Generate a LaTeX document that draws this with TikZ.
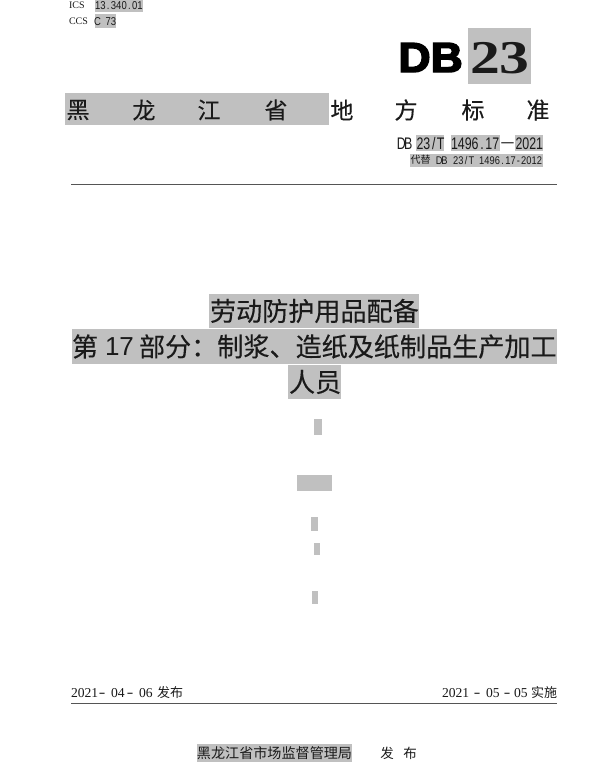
\documentclass[tikz,border=0pt]{standalone}
\usepackage{fontspec}
\setmainfont{Liberation Serif}
\newfontfamily\cjk[FakeBold=0.25]{Noto Sans CJK SC}
\newfontfamily\cjklight{Noto Sans CJK SC}
\newfontfamily\arialf{Liberation Sans}
\newfontfamily\heavyf[FakeBold=3.5]{Liberation Sans Bold}
\newcommand{\fsz}[1]{\fontsize{#1}{#1}\selectfont}
\makeatletter
\newcommand{\hw}[2]{\def\hwdim{#1}\@tfor\hwc:=#2\do{\makebox[\hwdim][c]{\hwc}}}
\makeatother
\definecolor{hlgray}{HTML}{C0C0C0}
\definecolor{ink}{HTML}{1A1A1A}
\definecolor{rulegray}{HTML}{555555}
\tikzset{
  hl/.style={fill=hlgray,draw=none},
  txt/.style={inner sep=0pt,outer sep=0pt,text=ink},
  rulel/.style={draw=rulegray,line width=1.3pt},
  band/.style={txt,font=\cjk\fsz{23}},
  ttl/.style={txt,font=\cjk\fsz{26.1},anchor=west},
  code/.style={txt,font=\arialf\fsz{9.5},anchor=base west,yscale=1.2},
  num/.style={txt,font=\arialf\fsz{12.4},anchor=base west,yscale=1.35},
  rep/.style={txt,font=\arialf\fsz{9.3},anchor=base west,yscale=1.2},
  date/.style={txt,font=\fsz{13.6},anchor=base west},
  dashm/.style={txt,font=\arialf\fsz{14},anchor=base,xscale=1.5},
  cjks/.style={txt,font=\cjklight\fsz{13},anchor=west}
}
\begin{document}
\begin{tikzpicture}[x=1pt,y=-1pt]
\useasboundingbox (0,0) rectangle (600,768);
% grey highlight boxes
\fill[hl] (94.5,0) rectangle (142.5,12.5);
\fill[hl] (94.5,14.5) rectangle (116,28);
\fill[hl] (65,93) rectangle (329,125);
\fill[hl] (468,28) rectangle (531,84);
\fill[hl] (416,135) rectangle (444,151);
\fill[hl] (451,135) rectangle (500,151);
\fill[hl] (515,135) rectangle (543,151);
\fill[hl] (410,153.5) rectangle (543,166.5);
\fill[hl] (209,294) rectangle (419,328);
\fill[hl] (72,329) rectangle (557,364);
\fill[hl] (288,365) rectangle (341,399);
\fill[hl] (313.5,418.5) rectangle (321.5,435);
\fill[hl] (296.5,474.5) rectangle (332,491);
\fill[hl] (310.5,517) rectangle (318,531);
\fill[hl] (313.5,542.5) rectangle (320,555);
\fill[hl] (311.5,590.5) rectangle (318,603.5);
\fill[hl] (197,744) rectangle (352,762);
% header codes
\node[txt,font=\fsz{10},anchor=west] (ics) at (69,5.5) {ICS};
\node[code] (icsv) at (95,9.8) {\hw{5.3pt}{13.340.01}};
\node[txt,font=\fsz{10},anchor=west] (ccs) at (69,21) {CCS};
\node[code] (ccsv) at (95,25.3) {\hw{5.3pt}{C~73}};
% DB 23 mark
\node[txt,font=\heavyf\fsz{42},anchor=base west,text=black,xscale=1.06] (db) at (398.5,72) {DB};
\node[txt,font=\bfseries\fsz{47},anchor=base west,xscale=1.27] (n23) at (470,74) {23};
% band title
\node[band] (b1) at (78,110) {黑};
\node[band] (b2) at (144,110) {龙};
\node[band] (b3) at (209,110) {江};
\node[band] (b4) at (276,110) {省};
\node[band] (b5) at (342,110) {地};
\node[band] (b6) at (406,110) {方};
\node[band] (b7) at (473,110) {标};
\node[band] (b8) at (538,110) {准};
% standard number
\node[num] (s1) at (398,149.5) {\hw{6.9pt}{DB}};
\node[num] (s2) at (416.5,149.5) {\hw{6.9pt}{23/T}};
\node[num] (s3) at (451,149.5) {\hw{6.9pt}{1496.17}};
\node[num,anchor=base] (s4) at (507.5,147) {\makebox[15pt][c]{—}};
\node[num] (s5) at (515.5,149.5) {\hw{6.9pt}{2021}};
\node[txt,font=\cjklight\fsz{10},anchor=west] (r0) at (410.5,160) {代替};
\node[rep] (r1) at (436.5,164.3) {\hw{5.25pt}{DB}};
\node[rep] (r2) at (453,164.3) {\hw{5.25pt}{23/T}};
\node[rep] (r3) at (479,164.3) {\hw{5.25pt}{1496.17-2012}};
% rules
\coordinate (r1a) at (71,184.5);
\coordinate (r1b) at (557,184.5);
\draw[rulel] (r1a) -- (r1b);
\coordinate (r2a) at (71,703.7);
\coordinate (r2b) at (557,703.7);
\draw[rulel] (r2a) -- (r2b);
% main title
\node[ttl] (t1) at (210,311) {劳动防护用品配备};
\node[ttl] (t2a) at (72,346.5) {第};
\node[ttl,font=\arialf\fsz{26}] (t2b) at (105,346.5) {17};
\node[ttl] (t2c) at (139,346.5) {部分：制浆、造纸及纸制品生产加工};
\node[ttl] (t3) at (289,382) {人员};
% dates
\node[date] (d1a) at (71,697.5) {2021};
\node[dashm] (d1b) at (102,697.5) {-};
\node[date] (d1c) at (111,697.5) {04};
\node[dashm] (d1d) at (130,697.5) {-};
\node[date] (d1e) at (139,697.5) {06};
\node[cjks] (d1f) at (157,693) {发布};
\node[date] (d2a) at (442,697.5) {2021};
\node[dashm] (d2b) at (477,697.5) {-};
\node[date] (d2c) at (486,697.5) {05};
\node[dashm] (d2d) at (507,697.5) {-};
\node[date] (d2e) at (514,697.5) {05};
\node[cjks] (d2f) at (531,693) {实施};
% issuer
\node[txt,font=\cjklight\fsz{14.1},anchor=center] (iss) at (274.5,753) {黑龙江省市场监督管理局};
\node[txt,font=\cjklight\fsz{13.5}] (f1) at (387,753.5) {发};
\node[txt,font=\cjklight\fsz{13.5}] (f2) at (410,753.5) {布};
\end{tikzpicture}
\end{document}
